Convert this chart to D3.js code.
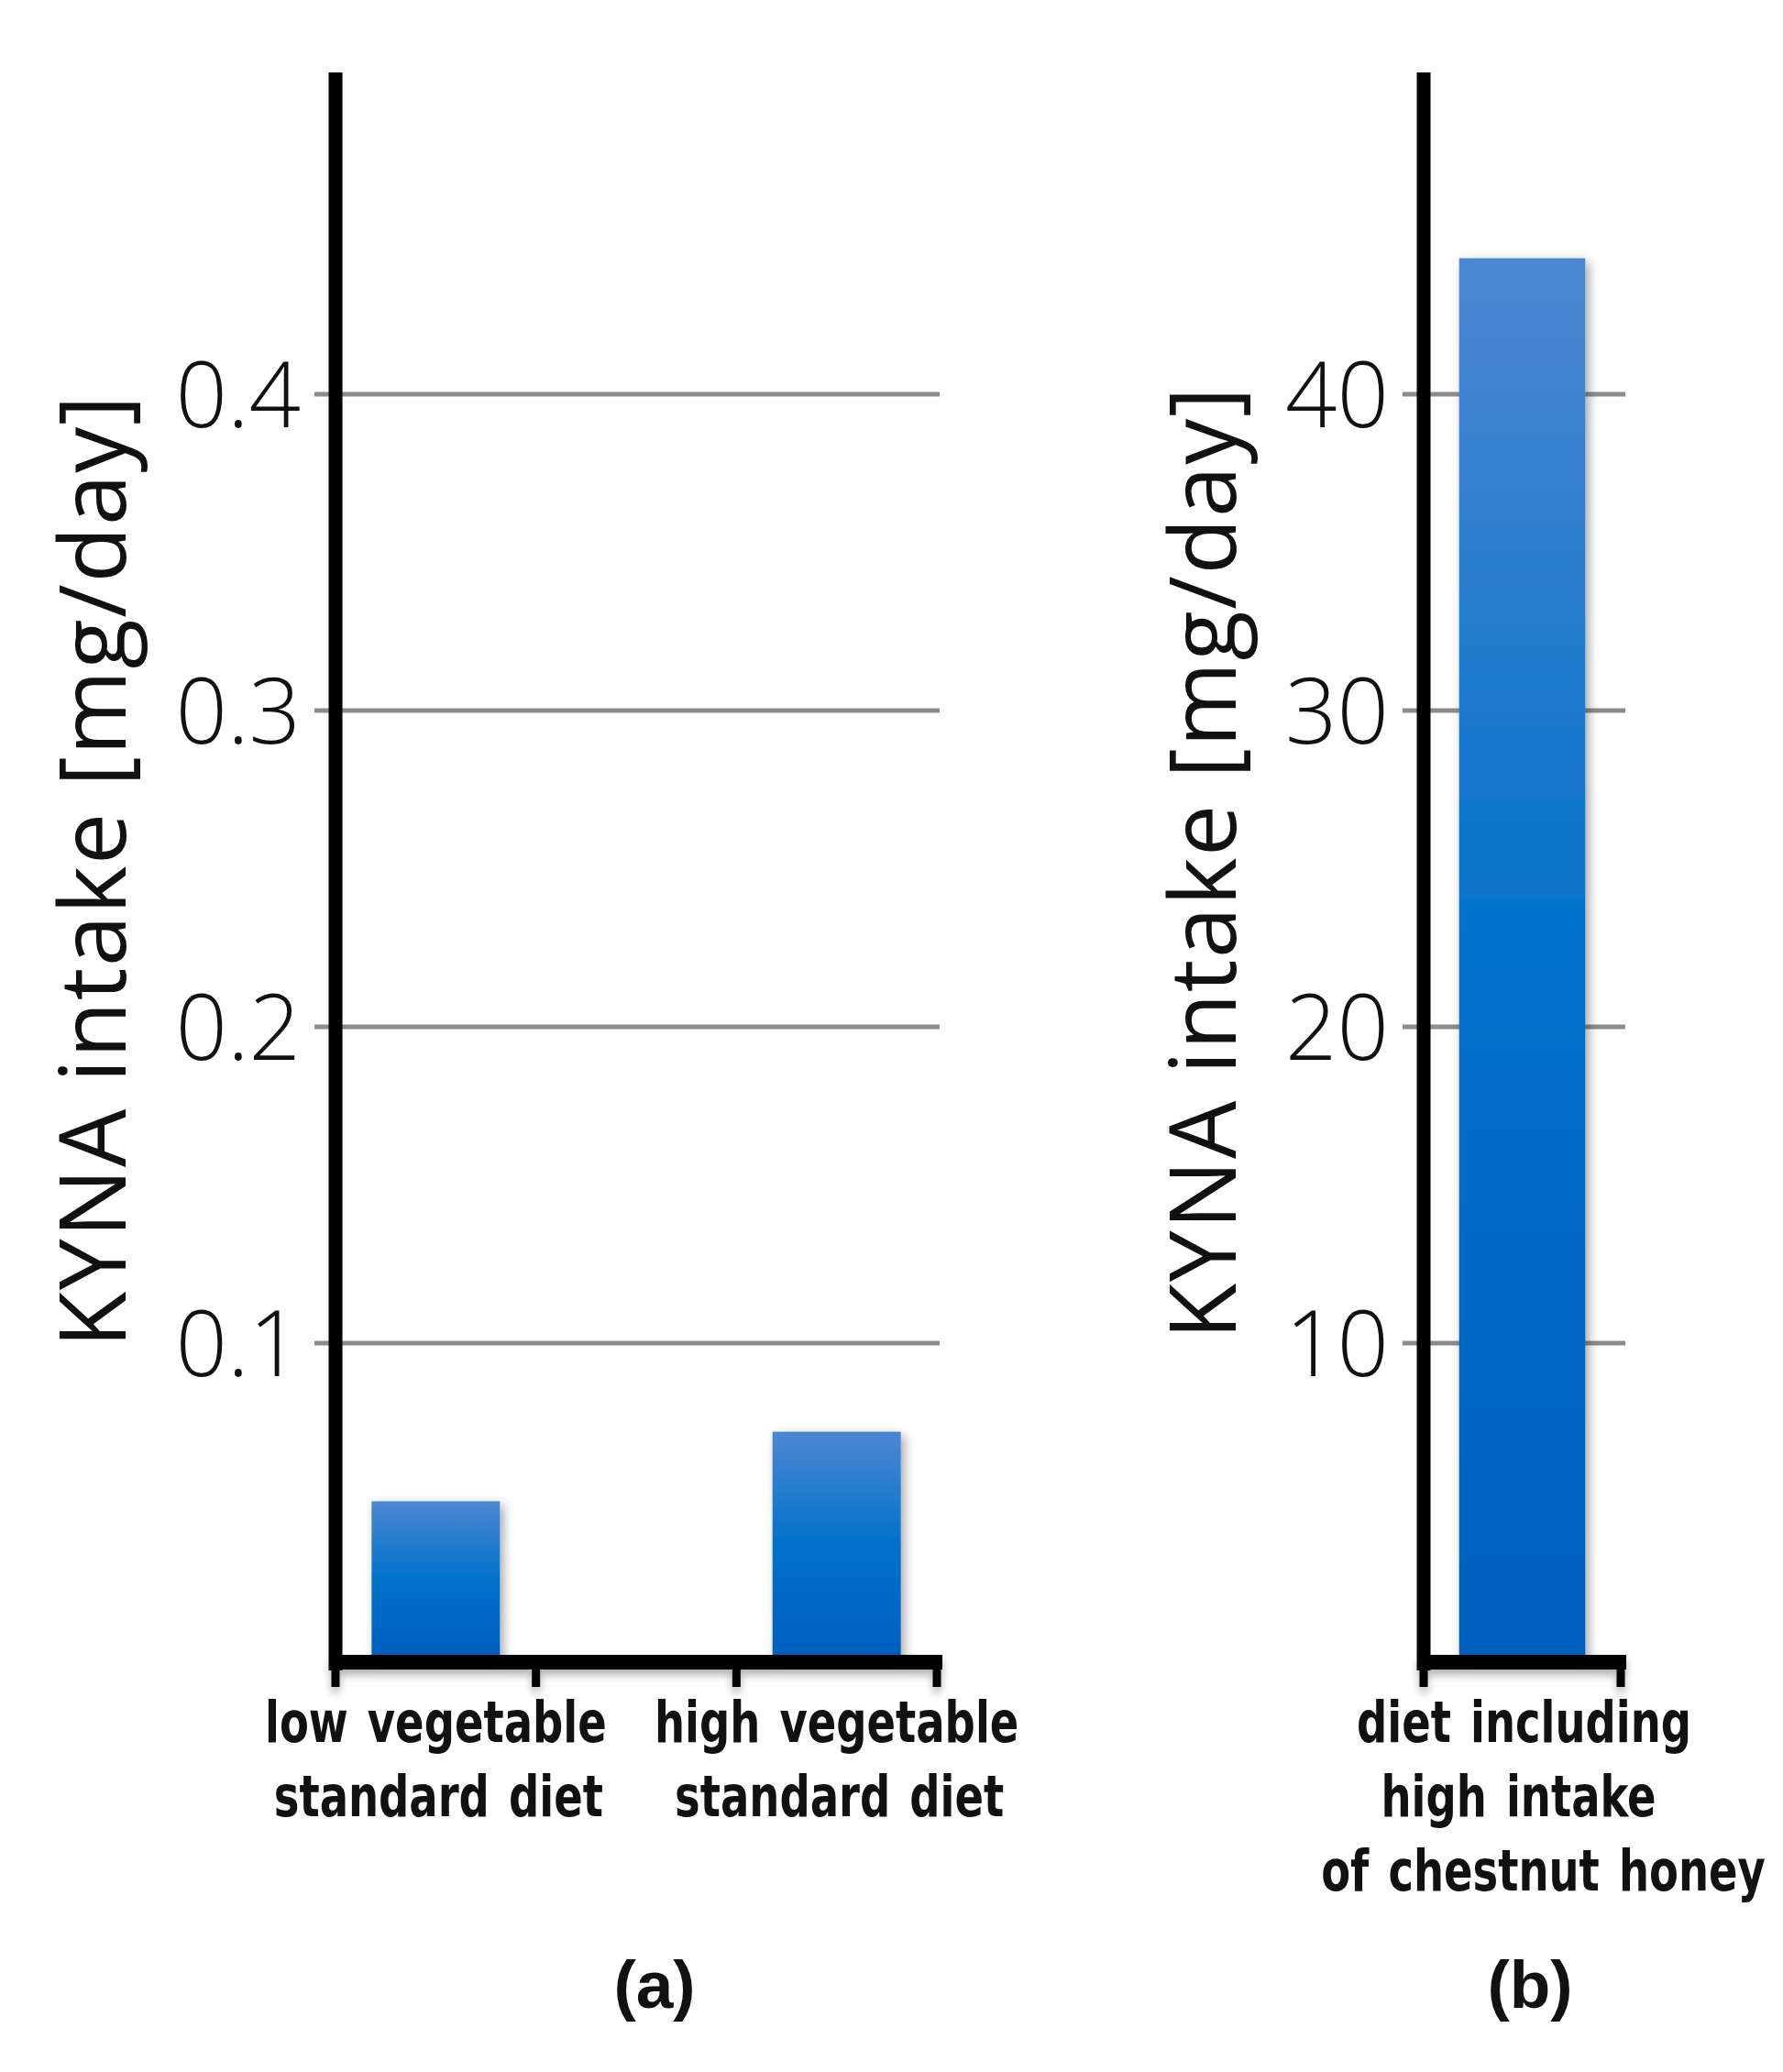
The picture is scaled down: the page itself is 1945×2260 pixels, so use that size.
<!DOCTYPE html>
<html>
<head>
<meta charset="utf-8">
<script src="https://cdn.jsdelivr.net/npm/d3@7"></script>
<style>
  body { margin: 0; background: #fff; }
  svg { display: block; }
</style>
</head>
<body>
<div id="chart"></div>
<script>
// ---- data ----
const categoriesA = ["low vegetable standard diet", "(empty)", "high vegetable standard diet"];
const labelsA = [["low vegetable", "standard diet"], [], ["high vegetable", "standard diet"]];
const valuesA = [0.05, null, 0.072];
const ticksA = [0.1, 0.2, 0.3, 0.4];

const categoriesB = ["diet including high intake of chestnut honey"];
const labelsB = [["diet including", "high intake", "of chestnut honey"]];
const valuesB = [44.3];
const ticksB = [10, 20, 30, 40];

const axisTitle = "KYNA intake [mg/day]";

// ---- page ----
const width = 1945;
const height = 2260;

const svg = d3.select("#chart").append("svg")
    .attr("width", width)
    .attr("height", height);

svg.append("rect").attr("width", width).attr("height", height).attr("fill", "#fff");

const defs = svg.append("defs");

const grad = defs.append("linearGradient")
    .attr("id", "barGrad")
    .attr("x1", 0).attr("y1", 0).attr("x2", 0).attr("y2", 1);
grad.append("stop").attr("offset", "0%").attr("stop-color", "#4d87d2");
grad.append("stop").attr("offset", "50%").attr("stop-color", "#0071cb");
grad.append("stop").attr("offset", "100%").attr("stop-color", "#005fbe");

defs.append("filter")
    .attr("id", "shadow")
    .attr("x", "-30%").attr("y", "-10%").attr("width", "160%").attr("height", "120%")
  .append("feDropShadow")
    .attr("dx", 4).attr("dy", 4).attr("stdDeviation", 6)
    .attr("flood-color", "#000").attr("flood-opacity", 0.35);

defs.append("filter")
    .attr("id", "lineShadow")
    .attr("x", "-5%").attr("y", "-100%").attr("width", "110%").attr("height", "400%")
  .append("feDropShadow")
    .attr("dx", 0).attr("dy", 6).attr("stdDeviation", 5)
    .attr("flood-color", "#000").attr("flood-opacity", 0.3);

// shared vertical extent
const yBottom = 1810;
const yTop = 85;
// the category labels are a narrow face; squeeze the available one
const squeeze = 0.82;

function drawPanel(cfg) {
    const g = svg.append("g");

    const y = d3.scaleLinear().domain([0, cfg.max]).range([yBottom, yTop]);

    // band scale for ticks (boundaries) and one with padding for bars
    const xBand = d3.scaleBand().domain(cfg.categories).range(cfg.xRange);
    const xBar = d3.scaleBand().domain(cfg.categories).range(cfg.xRange)
        .paddingInner(0.36).paddingOuter(0.18);

    // gridlines + outward ticks
    g.append("g")
        .selectAll("line")
        .data(cfg.ticks)
        .join("line")
        .attr("x1", cfg.xRange[0] - 23)
        .attr("x2", cfg.gridEnd)
        .attr("y1", d => y(d))
        .attr("y2", d => y(d))
        .attr("stroke", "#8c8c8c")
        .attr("stroke-width", 5);

    // tick labels
    g.append("g")
        .selectAll("text")
        .data(cfg.ticks)
        .join("text")
        .attr("x", cfg.xRange[0] - 38)
        .attr("y", d => y(d) + 36)
        .attr("text-anchor", "end")
        .attr("font-family", "'Open Sans', sans-serif")
        .attr("font-weight", 300)
        .attr("font-size", 99)
        .attr("fill", "#111")
        .text(cfg.format);

    // bars
    const barData = cfg.categories.map((c, i) => ({ c, v: cfg.values[i] }))
        .filter(d => d.v != null);
    g.append("g")
        .selectAll("rect")
        .data(barData)
        .join("rect")
        .attr("x", d => xBar(d.c))
        .attr("width", xBar.bandwidth())
        .attr("y", d => y(d.v))
        .attr("height", d => y(0) - y(d.v))
        .attr("fill", "url(#barGrad)")
        .attr("filter", "url(#shadow)");

    // y axis line
    g.append("line")
        .attr("x1", cfg.xRange[0]).attr("x2", cfg.xRange[0])
        .attr("y1", yTop - 6).attr("y2", yBottom + 12)
        .attr("stroke", "#000")
        .attr("stroke-width", 15);

    // x axis line and boundary ticks
    const xg = g.append("g").attr("filter", "url(#lineShadow)");
    xg.append("line")
        .attr("x1", cfg.xRange[0] - 6).attr("x2", cfg.xRange[1] + 6)
        .attr("y1", yBottom + 3).attr("y2", yBottom + 3)
        .attr("stroke", "#000")
        .attr("stroke-width", 16);
    const bounds = cfg.categories.map(c => xBand(c)).concat([xBand.range()[1]]);
    xg.selectAll("line.tick")
        .data(bounds)
        .join("line")
        .attr("class", "tick")
        .attr("x1", d => d).attr("x2", d => d)
        .attr("y1", yBottom + 3).attr("y2", yBottom + 30)
        .attr("stroke", "#000")
        .attr("stroke-width", 9);

    // category labels, one text per line
    const lines = [];
    cfg.categories.forEach((c, i) => {
        cfg.labels[i].forEach((t, k) => {
            lines.push({ t, k, x: xBand(c) + xBand.bandwidth() / 2 + (cfg.lineShift[k] || 0) });
        });
    });
    g.append("g")
        .selectAll("text")
        .data(lines)
        .join("text")
        .attr("transform", d => `translate(${d.x},${1900 + d.k * 81}) scale(${squeeze},1)`)
        .attr("text-anchor", "middle")
        .attr("font-family", "'DejaVu Sans Condensed', 'DejaVu Sans', sans-serif")
        .attr("font-weight", "bold")
        .attr("font-size", 63)
        .attr("word-spacing", 6)
        .attr("fill", "#111")
        .text(d => d.t);

    // axis title
    g.append("text")
        .attr("transform", `translate(${cfg.titleX},${cfg.titleY}) rotate(-90)`)
        .attr("text-anchor", "middle")
        .attr("font-family", "'Open Sans', sans-serif")
        .attr("font-size", 100)
        .attr("letter-spacing", 1.5)
        .attr("fill", "#111")
        .text(axisTitle);

    // panel letter
    g.append("text")
        .attr("x", cfg.letterX)
        .attr("y", 2190)
        .attr("text-anchor", "middle")
        .attr("font-family", "'Liberation Sans', sans-serif")
        .attr("font-weight", "bold")
        .attr("font-size", 73)
        .attr("fill", "#111")
        .text(cfg.letter);
}

drawPanel({
    categories: categoriesA,
    labels: labelsA,
    values: valuesA,
    ticks: ticksA,
    max: 0.5,
    format: d3.format(".1f"),
    xRange: [366, 1022],
    gridEnd: 1025,
    lineShift: [0, 3],
    titleX: 137,
    titleY: 950,
    letterX: 714,
    letter: "(a)"
});

drawPanel({
    categories: categoriesB,
    labels: labelsB,
    values: valuesB,
    ticks: ticksB,
    max: 50,
    format: d3.format("d"),
    xRange: [1553, 1768],
    gridEnd: 1773,
    lineShift: [2, -4, 23],
    titleX: 1348,
    titleY: 941,
    letterX: 1669,
    letter: "(b)"
});
</script>
</body>
</html>
